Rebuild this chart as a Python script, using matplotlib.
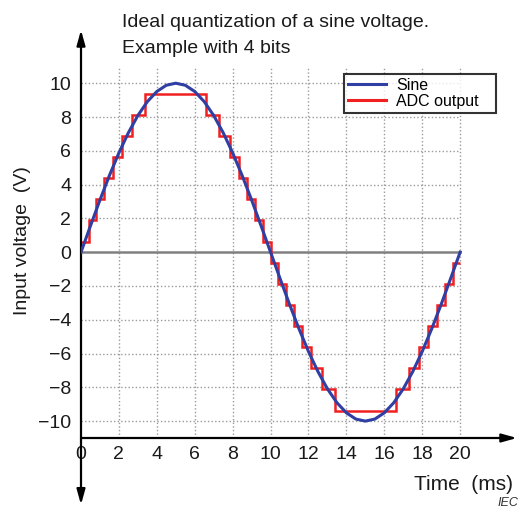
import numpy as np
import matplotlib
matplotlib.use("Agg")
import matplotlib.pyplot as plt

plt.rcParams['font.family'] = ['Liberation Sans', 'DejaVu Sans']

# ---- data ----
sine_t = np.arange(0, 20.5, 0.5)  # ms
sine_v = [0.0, 1.56, 3.09, 4.54, 5.88, 7.07, 8.09, 8.91, 9.51, 9.88, 10.0,
          9.88, 9.51, 8.91, 8.09, 7.07, 5.88, 4.54, 3.09, 1.56, 0.0,
          -1.56, -3.09, -4.54, -5.88, -7.07, -8.09, -8.91, -9.51, -9.88, -10.0,
          -9.88, -9.51, -8.91, -8.09, -7.07, -5.88, -4.54, -3.09, -1.56, 0.0]

adc_edges = [0, 0.40, 0.80, 1.22, 1.67, 2.15, 2.70, 3.39,
             6.61, 7.30, 7.85, 8.33, 8.78, 9.20, 9.60, 10.0,
             10.40, 10.80, 11.22, 11.67, 12.15, 12.70, 13.39,
             16.61, 17.30, 17.85, 18.33, 18.78, 19.20, 19.60, 20.0]
adc_levels = [0.625, 1.875, 3.125, 4.375, 5.625, 6.875, 8.125, 9.375,
              8.125, 6.875, 5.625, 4.375, 3.125, 1.875, 0.625,
              -0.625, -1.875, -3.125, -4.375, -5.625, -6.875, -8.125, -9.375,
              -8.125, -6.875, -5.625, -4.375, -3.125, -1.875, -0.625]

x_ticks = list(range(0, 21, 2))
y_ticks = list(range(-10, 11, 2))

W, H = 519, 511
fig = plt.figure(figsize=(W / 100, H / 100), dpi=100)
ax = fig.add_axes([81 / W, (H - 438) / H, (517 - 81) / W, (438 - 30) / H])
ax.set_xlim(0, 23.0)
ax.set_ylim(-11, 13.15)
for s in ax.spines.values():
    s.set_visible(False)

grid_kw = dict(color='#9a9a9a', lw=1.0, linestyle=(0, (1, 1.6)), zorder=1)
for x in x_ticks[1:]:
    ax.plot([x, x], [-11, 11], **grid_kw)
for y in y_ticks:
    if y != 0:
        ax.plot([0, 20], [y, y], **grid_kw)
ax.plot([0, 20], [0, 0], color='#808080', lw=1.8, zorder=2)

ax.stairs(adc_levels, adc_edges, baseline=None, color='#f02020', lw=1.8,
          label='ADC output', zorder=3)
ax.plot(sine_t, sine_v, color='#2f3fa3', lw=2.2, label='Sine', zorder=4)

# axes arrows
arrow_kw = dict(arrowstyle='-|>,head_length=0.9,head_width=0.25',
                color='black', lw=1.6, shrinkA=0, shrinkB=0)
ax.annotate('', xy=(23.0, -11), xytext=(0, -11), annotation_clip=False,
            arrowprops=arrow_kw)
ax.annotate('', xy=(0, 13.15), xytext=(0, -11), annotation_clip=False,
            arrowprops=arrow_kw)
ax.annotate('', xy=(0, -14.95), xytext=(0, -11), annotation_clip=False,
            arrowprops=arrow_kw)

ax.set_xticks(x_ticks)
ax.set_yticks(y_ticks)
ax.set_xticklabels([str(v) for v in x_ticks])
ax.set_yticklabels([str(v).replace('-', '\u2212') for v in y_ticks])
ax.tick_params(axis='both', length=0, labelsize=14, colors='#1a1a1a')
ax.tick_params(axis='x', pad=6)
ax.tick_params(axis='y', pad=7)

handles, labels = ax.get_legend_handles_labels()
order = [labels.index('Sine'), labels.index('ADC output')]
leg = ax.legend([handles[i] for i in order],
                ['Sine', 'ADC output   '],
                loc='upper left', bbox_to_anchor=(344 / W, 1 - 74 / H),
                bbox_transform=fig.transFigure, fontsize=11.5,
                frameon=True, fancybox=False, edgecolor='black',
                handlelength=2.4, handletextpad=0.6, labelspacing=0.05,
                borderpad=0.25, borderaxespad=0)
leg.get_frame().set_linewidth(1.5)
for line in leg.get_lines():
    line.set_linewidth(2.2)

fig.text(122 / W, 1 - 27 / H, 'Ideal quantization of a sine voltage.',
         fontsize=14, va='baseline', ha='left', color='#1a1a1a')
fig.text(122 / W, 1 - 53 / H, 'Example with 4 bits',
         fontsize=14, va='baseline', ha='left', color='#1a1a1a')
fig.text(23 / W, 1 - 241 / H, 'Input voltage  (V)', rotation=90,
         fontsize=14, va='center', ha='center', color='#1a1a1a')
fig.text(513 / W, 1 - 484 / H, 'Time  (ms)', fontsize=15,
         va='center', ha='right', color='#1a1a1a')
fig.text(497 / W, 1 - 503 / H, 'IEC', fontsize=9, style='italic',
         va='center', ha='left', color='#333333')

fig.savefig('out.png', dpi=100)
